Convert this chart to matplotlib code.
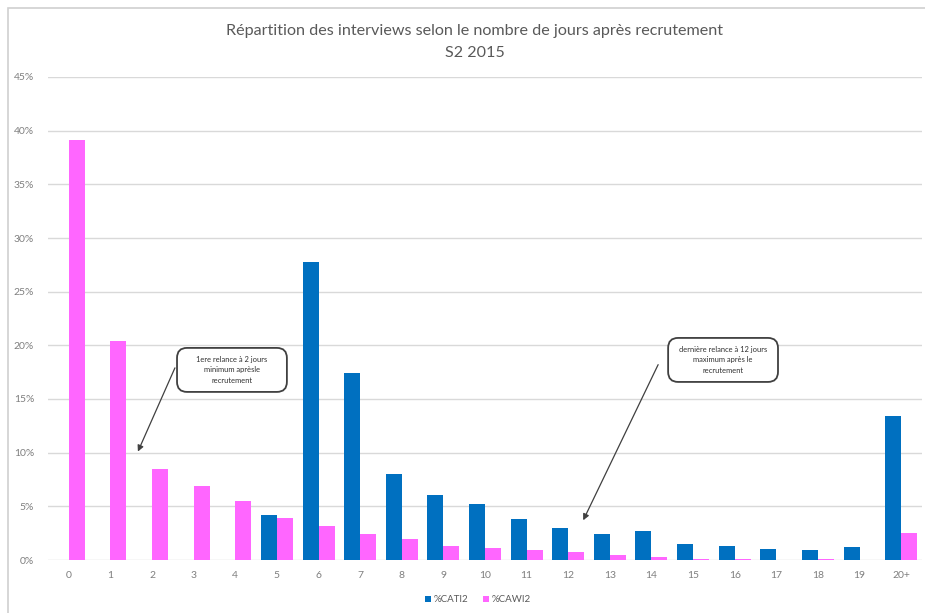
import matplotlib
matplotlib.use("Agg")
import matplotlib.pyplot as plt
from matplotlib.patches import Rectangle, FancyBboxPatch
from matplotlib.ticker import FuncFormatter, MultipleLocator
import numpy as np

plt.rcParams['font.family'] = ['Lato', 'DejaVu Sans']

# Days after recruitment
categories = ['0', '1', '2', '3', '4', '5', '6', '7', '8', '9', '10',
              '11', '12', '13', '14', '15', '16', '17', '18', '19', '20+']
# Share of interviews (%)
cati2 = [0, 0, 0, 0, 0, 4.2, 27.8, 17.4, 8.0, 6.1, 5.2,
         3.8, 3.0, 2.4, 2.7, 1.5, 1.3, 1.0, 0.95, 1.2, 13.4]
cawi2 = [39.1, 20.4, 8.5, 6.9, 5.5, 3.9, 3.2, 2.4, 2.0, 1.35, 1.1,
         0.95, 0.7, 0.45, 0.3, 0.1, 0.1, 0.0, 0.1, 0.0, 2.5]
series_names = ['%CATI2', '%CAWI2']
title_lines = ['Répartition des interviews selon le nombre de jours après recrutement', 'S2 2015']
note_first = '1ere relance à 2 jours\nminimum aprèsle\nrecrutement'
note_last = 'dernière relance à 12 jours\nmaximum après le\nrecrutement'

blue = '#0070C0'
pink = '#FF66FF'
grey_text = '#595959'
tick_text = '#7F7F7F'
grid_col = '#D9D9D9'

W, H = 925, 613
fig = plt.figure(figsize=(W / 100, H / 100), dpi=100)
fig.patch.set_facecolor('white')

# Outer chart frame (top and left edges visible)
fig.add_artist(Rectangle((8 / W, -0.1), 1.2, 1 - 8 / H + 0.1, transform=fig.transFigure,
                         fill=False, edgecolor='#D0D0D0', linewidth=1.2))

ax = fig.add_axes([48 / W, 1 - 560 / H, 874 / W, (560 - 77) / H])
x = np.arange(len(categories))
bw = 0.385
ax.bar(x - bw / 2, cati2, bw, color=blue, label=series_names[0], zorder=3)
ax.bar(x + bw / 2, cawi2, bw, color=pink, label=series_names[1], zorder=3)

ax.set_xlim(-0.5, len(categories) - 0.5)
ax.set_ylim(0, 45)
ax.yaxis.set_major_locator(MultipleLocator(5))
ax.yaxis.set_major_formatter(FuncFormatter(lambda v, p: f'{v:.0f}%'))
ax.set_xticks(x)
ax.set_xticklabels(categories)
ax.grid(axis='y', color=grid_col, linewidth=1, zorder=0)
for s in ax.spines.values():
    s.set_visible(False)
ax.tick_params(axis='both', length=0, colors=tick_text, labelsize=7.5)
ax.tick_params(axis='y', pad=10)
ax.tick_params(axis='x', pad=8)

fig.text(475 / W, 1 - 31 / H, title_lines[0], ha='center', va='center',
         fontsize=11.6, color=grey_text)
fig.text(475 / W, 1 - 53 / H, title_lines[1], ha='center', va='center',
         fontsize=11.6, color=grey_text)

arrow_style = dict(arrowstyle='-|>', color='#404040', linewidth=0.9,
                   mutation_scale=9, shrinkA=0, shrinkB=0)
ax.annotate('', xy=(1.66, 10.1), xytext=(2.55, 17.9), arrowprops=arrow_style, zorder=4)
ax.annotate('', xy=(12.36, 3.7), xytext=(14.16, 18.2), arrowprops=arrow_style, zorder=4)


def callout(x0, y0, w, h, text):
    box = FancyBboxPatch((x0, y0), w, h,
                         boxstyle='round,pad=0,rounding_size=0.24',
                         mutation_aspect=3.9, facecolor='white',
                         edgecolor='#404040', linewidth=1.3, zorder=5)
    ax.add_patch(box)
    ax.text(x0 + w / 2, y0 + h / 2, text, ha='center', va='center', fontsize=5.4,
            color='#303030', linespacing=1.6, zorder=6)


callout(2.60, 15.66, 2.64, 4.10, note_first)
callout(14.40, 16.59, 2.64, 4.10, note_last)

leg = fig.legend(loc='center', bbox_to_anchor=(478 / W, 1 - 600 / H), ncol=2,
                 frameon=False, fontsize=7, handlelength=0.6, handleheight=0.6,
                 handletextpad=0.3, columnspacing=1.5)
for t in leg.get_texts():
    t.set_color(grey_text)

fig.savefig('out.png', dpi=100)
